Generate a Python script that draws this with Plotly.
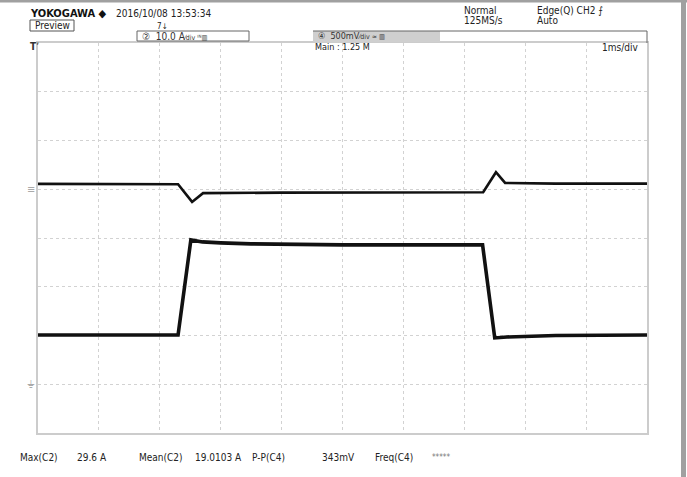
import plotly.graph_objects as go

# ---- data ----
time_ms_c2 = [0.0, 2.30, 2.51, 2.70, 3.00, 3.50, 5.00, 7.30, 7.50, 7.70, 8.50, 10.0]
current_c2_A = [10.1, 10.1, 29.6, 29.2, 29.0, 28.8, 28.6, 28.6, 9.5, 9.7, 10.0, 10.1]

time_ms_c4 = [0.0, 2.00, 2.30, 2.53, 2.71, 4.00, 7.00, 7.31, 7.52, 7.67, 8.50, 10.0]
voltage_c4_mV = [55, 55, 52, -130, -40, -35, -30, -30, 175, 65, 58, 58]

meas_labels = ["Max(C2)", "Mean(C2)", "P-P(C4)", "Freq(C4)"]
meas_values = ["29.6 A", "19.0103 A", "343mV", "*****"]

W, H = 687, 477
L, R, T, B = 38, 647, 43, 433
FONT = "DejaVu Sans Condensed, Liberation Sans Narrow, sans-serif"


def px(x):
    return (x - L) / (R - L)


def py(y):
    return (B - y) / (B - T)


fig = go.Figure()
fig.add_trace(go.Scatter(x=time_ms_c2, y=current_c2_A, mode="lines",
                         line=dict(color="#111111", width=3.6), yaxis="y",
                         name="C2", hoverinfo="skip"))
fig.add_trace(go.Scatter(x=time_ms_c4, y=voltage_c4_mV, mode="lines",
                         line=dict(color="#111111", width=2.6), yaxis="y2",
                         name="C4", hoverinfo="skip"))

grid = dict(showgrid=True, gridcolor="#d2d2d2", griddash="dot", gridwidth=1,
            showticklabels=False, ticks="", zeroline=False,
            showline=True, linecolor="#cccccc", linewidth=2, mirror=True)

fig.update_layout(
    width=W, height=H,
    margin=dict(l=L, r=W - R, t=T, b=H - B, pad=0),
    paper_bgcolor="white", plot_bgcolor="white",
    showlegend=False,
    xaxis=dict(range=[0, 10], dtick=1, **grid),
    yaxis=dict(range=[-10, 70], dtick=10, **grid),
    yaxis2=dict(range=[-2500, 1500], overlaying="y", showgrid=False,
                showticklabels=False, zeroline=False, showline=False),
    font=dict(family=FONT, color="#222222", size=10),
)

shapes = []
# outer gray frame (top and right)
shapes.append(dict(type="rect", xref="paper", yref="paper", x0=px(0), x1=px(W),
                   y0=py(2.5), y1=py(0), line=dict(width=0), fillcolor="#a0a0a0"))
shapes.append(dict(type="rect", xref="paper", yref="paper", x0=px(681), x1=px(686),
                   y0=py(H), y1=py(0), line=dict(width=0), fillcolor="#a0a0a0"))
# Preview box
shapes.append(dict(type="rect", xref="paper", yref="paper", x0=px(30), x1=px(74),
                   y0=py(31), y1=py(20), line=dict(color="#555555", width=1)))
# channel 2 box
shapes.append(dict(type="rect", xref="paper", yref="paper", x0=px(137), x1=px(249),
                   y0=py(41), y1=py(31), line=dict(color="#666666", width=1)))
# channel 4 box
shapes.append(dict(type="rect", xref="paper", yref="paper", x0=px(313), x1=px(440),
                   y0=py(42), y1=py(31), line=dict(width=0), fillcolor="#cfcfcf"))
shapes.append(dict(type="path", xref="paper", yref="paper",
                   path=f"M {px(313)},{py(31)} L {px(R)},{py(31)} L {px(R)},{py(43)}",
                   line=dict(color="#666666", width=1)))
fig.update_layout(shapes=shapes)

ann = []


def text(x, y, s, size=10, anchor="left", color="#222222", bold=False):
    if bold:
        s = f"<b>{s}</b>"
    ann.append(dict(xref="paper", yref="paper", x=px(x), y=py(y), text=s,
                    showarrow=False, xanchor=anchor, yanchor="middle",
                    font=dict(size=size, color=color, family=FONT)))


text(28, 13, "YOKOGAWA ◆", size=11, bold=True, color="#111111")
text(114, 13, "2016/10/08 13:53:34", size=10)
text(33, 26, "Preview", size=10)
text(155, 27, "7↓", size=8)
text(140, 36, "②  10.0 A<span style='font-size:7px'>⁄div ᴵᴺ▥</span>", size=10, color="#333333")
text(316, 36, "④  500mV<span style='font-size:7px'>⁄div ≃ ▥</span>", size=9, color="#333333")
text(462, 10, "Normal", size=10)
text(462, 21, "125MS/s", size=10)
text(535, 10, "Edge(Q) CH2 ⨍", size=10)
text(535, 21, "Auto", size=10)
text(313, 47, "Main : 1.25 M", size=9)
text(640, 48, "1ms/div", size=10, anchor="right")
text(28, 47, "<b>T</b>ʼ", size=10, color="#333333")

meas_x = [(18, 75), (137, 193), (250, 320), (373, 430)]
for (lx, vx), lab, val in zip(meas_x, meas_labels, meas_values):
    text(lx, 457, lab, size=10)
    text(vx, 457, val, size=10 if val != "*****" else 8, color="#222222" if val != "*****" else "#777777")

fig.update_layout(annotations=ann)

# channel offset / ground markers on the left
fig.add_annotation(xref="paper", yref="y2", x=px(31), y=0, text="≡", showarrow=False,
                   font=dict(size=11, color="#aaaaaa", family=FONT), xanchor="center")
fig.add_annotation(xref="paper", yref="y", x=px(31), y=0, text="⏚", showarrow=False,
                   font=dict(size=11, color="#aaaaaa", family="DejaVu Sans"), xanchor="center")

fig.write_html("out.html", config={"displayModeBar": False},
               post_script="document.body.style.margin='0';")
